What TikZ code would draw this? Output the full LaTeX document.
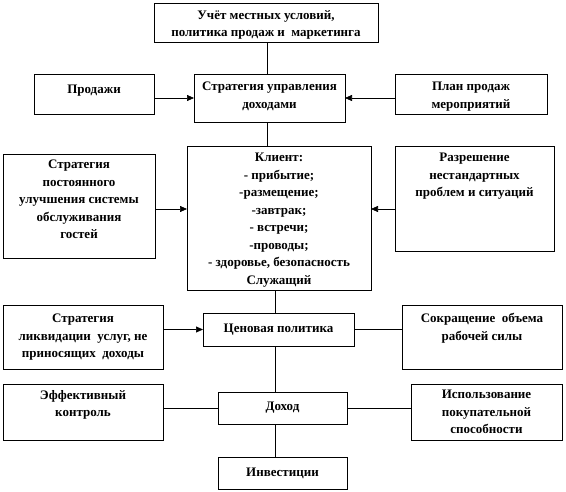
\documentclass[tikz,border=0pt]{standalone}
\usepackage{fontspec}
\setmainfont{Liberation Serif}
\usetikzlibrary{arrows.meta}
\newcommand\BOX[5]{\node[box, minimum width={#4-#2}, minimum height={#5-#3}] (#1) at ({(#2+#4)/2},{(#3+#5)/2}) {};}
\tikzset{
  box/.style={draw, line width=0.7pt, inner sep=0pt, outer sep=0pt},
  txt/.style={inner sep=0pt, align=center, font=\fontsize{13}{17.5}\selectfont\bfseries},
  arr/.style={line width=0.7pt, -{Triangle[length=7pt,width=6pt]}},
  ln/.style={line width=0.7pt}
}
\begin{document}
\begin{tikzpicture}[x=1pt,y=-1pt]
\useasboundingbox (0,0) rectangle (566,491);
% boxes
\BOX{top}{154}{3}{378}{42}
\BOX{prod}{34}{74}{154}{114}
\BOX{sud}{194}{74}{345}{122}
\BOX{plan}{395}{74}{547}{114}
\BOX{lbig}{3}{154}{155}{258}
\BOX{kl}{187}{146}{371}{290}
\BOX{razr}{395}{146}{554}{251}
\BOX{likv}{3}{305}{163}{369}
\BOX{cen}{203}{313}{354}{346}
\BOX{sokr}{402}{305}{562}{369}
\BOX{eff}{3}{384}{163}{440}
\BOX{doh}{218}{392}{347}{424}
\BOX{isp}{411}{384}{562}{440}
\BOX{inv}{218}{457}{347}{489}
% texts
\node[txt, anchor=north] (top-t) at (top.north |- 0,10) {Учёт местных условий,\\политика продаж и~~маркетинга};
\node[txt] (prod-t) at (94,91) {Продажи};
\node[txt, anchor=north] (sud-t) at (sud.north |- 0,82) {Стратегия управления\\доходами};
\node[txt, anchor=north] (plan-t) at (plan.north |- 0,82) {План продаж\\мероприятий};
\node[txt, anchor=north] (lbig-t) at (lbig.north |- 0,160) {Стратегия\\постоянного\\улучшения системы\\обслуживания\\гостей};
\node[txt, anchor=north] (kl-t) at (kl.north |- 0,153) {Клиент:\\- прибытие;\\-размещение;\\-завтрак;\\- встречи;\\-проводы;\\- здоровье, безопасность\\Служащий};
\node[txt, anchor=north] (razr-t) at (razr.north |- 0,153) {Разрешение\\нестандартных\\проблем и ситуаций};
\node[txt, anchor=north] (likv-t) at (likv.north |- 0,314) {Стратегия\\ликвидации~~услуг, не\\приносящих~~доходы};
\node[txt] (cen-t) at (cen.center) {Ценовая политика};
\node[txt, anchor=north] (sokr-t) at (sokr.north |- 0,313) {Сокращение~~объема\\рабочей силы};
\node[txt, anchor=north] (eff-t) at (eff.north |- 0,390) {Эффективный\\контроль};
\node[txt] (doh-t) at (doh.center) {Доход};
\node[txt, anchor=north] (isp-t) at (isp.north |- 0,390) {Использование\\покупательной\\способности};
\node[txt] (inv-t) at (inv.center) {Инвестиции};
% guide coordinates
\coordinate (cx1) at (267,0);
\coordinate (cx2) at (275,0);
\coordinate (ry1) at (0,98);
\coordinate (ry2) at (0,209);
% connectors
\draw[ln] (top.south -| cx1) -- (sud.north -| cx1);
\draw[arr] (prod.east |- ry1) -- (sud.west |- ry1);
\draw[arr] (plan.west |- ry1) -- (sud.east |- ry1);
\draw[ln] (sud.south -| cx1) -- (kl.north -| cx1);
\draw[arr] (lbig.east |- ry2) -- (kl.west |- ry2);
\draw[arr] (razr.west |- ry2) -- (kl.east |- ry2);
\draw[ln] (kl.south -| cx2) -- (cen.north -| cx2);
\draw[arr] (likv.east |- cen.west) -- (cen.west);
\draw[ln] (cen.east) -- (sokr.west |- cen.east);
\draw[ln] (cen.south -| cx2) -- (doh.north -| cx2);
\draw[ln] (eff.east |- doh.west) -- (doh.west);
\draw[ln] (doh.east) -- (isp.west |- doh.east);
\draw[ln] (doh.south -| cx2) -- (inv.north -| cx2);
\end{tikzpicture}
\end{document}
